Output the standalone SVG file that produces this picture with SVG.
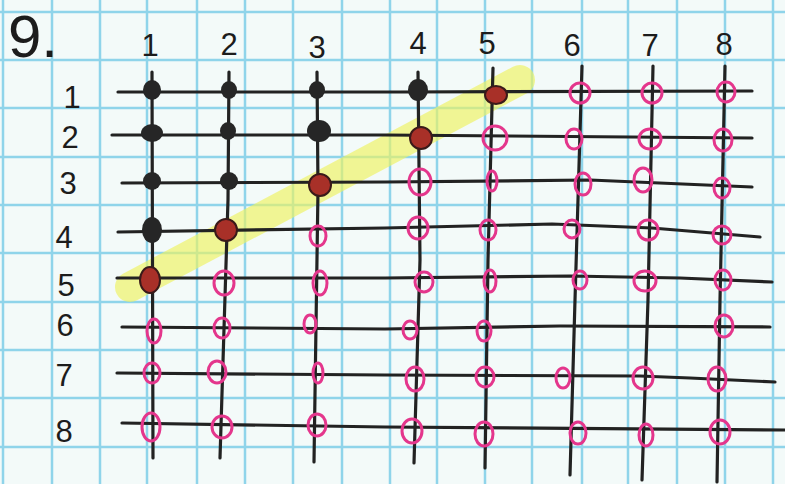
<svg xmlns="http://www.w3.org/2000/svg" width="785" height="484" viewBox="0 0 785 484">
<defs>
<style>
.bg{fill:#f3faf9}
.gp{stroke:#8fd4ea;stroke-width:2.5}
.ln{fill:none;stroke:#222;stroke-width:3.2;stroke-linecap:round;stroke-linejoin:round}
.lbl{font-family:"Liberation Sans","DejaVu Sans",sans-serif;font-size:31px;fill:#1c1c1c;text-anchor:middle}
.big{font-size:60px;text-anchor:start}
.blk{fill:#262626}
.red{fill:#a83028;stroke:#3a1a1a;stroke-width:2}
.pk{fill:none;stroke:#e4368c;stroke-width:3}
</style>
</defs>
<rect class="bg" x="0" y="0" width="785" height="484"/>
<g id="paper">
<path class="gp" d="M3,0V484M52,0V484M100,0V484M147,0V484M197,0V484M245,0V484M293,0V484M342,0V484M390,0V484M437,0V484M485,0V484M532,0V484M582,0V484M628,0V484M677,0V484M725,0V484M773,0V484"/>
<path class="gp" d="M0,12H785M0,60H785M0,108H785M0,157H785M0,205H785M0,253H785M0,302H785M0,350H785M0,398H785M0,447H785"/>
</g>
<g id="highlight">
<path d="M130,287 L520,80" stroke="#eef25e" stroke-opacity="0.65" stroke-width="30" stroke-linecap="round" fill="none"/>
</g>
<g id="connectors">
<polyline class="ln" points="118,92 400,92 752,91"/>
<polyline class="ln" points="112,135 385,135 752,138"/>
<polyline class="ln" points="122,183 385,182 590,180 752,187"/>
<polyline class="ln" points="118,232 385,228 552,224 652,228 760,237"/>
<polyline class="ln" points="117,278 385,278 570,276 680,278 772,282"/>
<polyline class="ln" points="122,327 385,329 560,326 770,327"/>
<polyline class="ln" points="117,373 385,375 640,376 690,378 775,382"/>
<polyline class="ln" points="122,423 385,427 785,430"/>
<polyline class="ln" points="152,72 153,458"/>
<polyline class="ln" points="229,72 228,200 220,458"/>
<polyline class="ln" points="317,72 318,190 314,462"/>
<polyline class="ln" points="418,72 420,260 414,463"/>
<polyline class="ln" points="493,68 488,260 485,468"/>
<polyline class="ln" points="582,66 575,300 570,475"/>
<polyline class="ln" points="653,66 648,300 642,480"/>
<polyline class="ln" points="725,66 720,300 717,482"/>
</g>
<g id="labels">
<text class="lbl big" x="8" y="57">9.</text>
<text class="lbl" x="150" y="56">1</text>
<text class="lbl" x="229" y="55">2</text>
<text class="lbl" x="317" y="58">3</text>
<text class="lbl" x="418" y="54">4</text>
<text class="lbl" x="487" y="54">5</text>
<text class="lbl" x="572" y="56">6</text>
<text class="lbl" x="650" y="56">7</text>
<text class="lbl" x="724" y="55">8</text>
<text class="lbl" x="72" y="108">1</text>
<text class="lbl" x="70" y="148">2</text>
<text class="lbl" x="68" y="194">3</text>
<text class="lbl" x="64" y="248">4</text>
<text class="lbl" x="66" y="296">5</text>
<text class="lbl" x="65" y="336">6</text>
<text class="lbl" x="64" y="386">7</text>
<text class="lbl" x="64" y="442">8</text>
</g>
<g id="chosen">
<ellipse class="blk" cx="152" cy="90" rx="9" ry="10"/>
<ellipse class="blk" cx="229" cy="90" rx="8" ry="9"/>
<ellipse class="blk" cx="317" cy="90" rx="8" ry="9"/>
<ellipse class="blk" cx="418" cy="90" rx="10" ry="11"/>
<ellipse class="blk" cx="152" cy="133" rx="11" ry="9"/>
<ellipse class="blk" cx="228" cy="131" rx="8" ry="9"/>
<ellipse class="blk" cx="319" cy="131" rx="12" ry="11"/>
<ellipse class="blk" cx="152" cy="181" rx="9" ry="9"/>
<ellipse class="blk" cx="229" cy="181" rx="9" ry="9"/>
<ellipse class="blk" cx="152" cy="230" rx="10" ry="13"/>
</g>
<g id="frontier">
<ellipse class="red" cx="496" cy="95" rx="11" ry="9"/>
<ellipse class="red" cx="421" cy="138" rx="11" ry="11"/>
<ellipse class="red" cx="320" cy="185" rx="11" ry="11"/>
<ellipse class="red" cx="226" cy="230" rx="11" ry="11"/>
<ellipse class="red" cx="150" cy="280" rx="10" ry="13"/>
</g>
<g id="open">
<ellipse class="pk" cx="580" cy="93" rx="10" ry="10"/>
<ellipse class="pk" cx="652" cy="93" rx="10" ry="10"/>
<ellipse class="pk" cx="726" cy="92" rx="9" ry="10"/>
<ellipse class="pk" cx="495" cy="138" rx="12" ry="12"/>
<ellipse class="pk" cx="574" cy="139" rx="8" ry="10"/>
<ellipse class="pk" cx="650" cy="139" rx="11" ry="10"/>
<ellipse class="pk" cx="723" cy="140" rx="9" ry="11"/>
<ellipse class="pk" cx="420" cy="182" rx="11" ry="13"/>
<ellipse class="pk" cx="492" cy="181" rx="5" ry="10"/>
<ellipse class="pk" cx="583" cy="184" rx="8" ry="11"/>
<ellipse class="pk" cx="643" cy="180" rx="9" ry="12"/>
<ellipse class="pk" cx="722" cy="188" rx="8" ry="10"/>
<ellipse class="pk" cx="318" cy="236" rx="8" ry="10"/>
<ellipse class="pk" cx="418" cy="228" rx="10" ry="11"/>
<ellipse class="pk" cx="488" cy="230" rx="8" ry="10"/>
<ellipse class="pk" cx="572" cy="229" rx="8" ry="9"/>
<ellipse class="pk" cx="648" cy="230" rx="10" ry="10"/>
<ellipse class="pk" cx="722" cy="235" rx="9" ry="9"/>
<ellipse class="pk" cx="224" cy="283" rx="10" ry="12"/>
<ellipse class="pk" cx="320" cy="283" rx="7" ry="12"/>
<ellipse class="pk" cx="424" cy="282" rx="9" ry="10"/>
<ellipse class="pk" cx="490" cy="281" rx="6" ry="11"/>
<ellipse class="pk" cx="580" cy="280" rx="7" ry="9"/>
<ellipse class="pk" cx="645" cy="281" rx="11" ry="10"/>
<ellipse class="pk" cx="723" cy="280" rx="8" ry="10"/>
<ellipse class="pk" cx="154" cy="331" rx="7" ry="12"/>
<ellipse class="pk" cx="222" cy="328" rx="8" ry="10"/>
<ellipse class="pk" cx="310" cy="324" rx="6" ry="9"/>
<ellipse class="pk" cx="410" cy="330" rx="7" ry="9"/>
<ellipse class="pk" cx="484" cy="331" rx="7" ry="10"/>
<ellipse class="pk" cx="724" cy="326" rx="9" ry="11"/>
<ellipse class="pk" cx="152" cy="373" rx="8" ry="10"/>
<ellipse class="pk" cx="217" cy="372" rx="9" ry="11"/>
<ellipse class="pk" cx="318" cy="373" rx="5" ry="10"/>
<ellipse class="pk" cx="415" cy="379" rx="9" ry="12"/>
<ellipse class="pk" cx="485" cy="377" rx="9" ry="10"/>
<ellipse class="pk" cx="563" cy="378" rx="7" ry="10"/>
<ellipse class="pk" cx="643" cy="378" rx="10" ry="11"/>
<ellipse class="pk" cx="717" cy="379" rx="9" ry="12"/>
<ellipse class="pk" cx="151" cy="427" rx="9" ry="14"/>
<ellipse class="pk" cx="222" cy="427" rx="10" ry="11"/>
<ellipse class="pk" cx="317" cy="425" rx="9" ry="11"/>
<ellipse class="pk" cx="412" cy="431" rx="10" ry="12"/>
<ellipse class="pk" cx="484" cy="434" rx="9" ry="12"/>
<ellipse class="pk" cx="578" cy="433" rx="8" ry="11"/>
<ellipse class="pk" cx="646" cy="435" rx="7" ry="11"/>
<ellipse class="pk" cx="720" cy="432" rx="10" ry="12"/>
</g>
</svg>
